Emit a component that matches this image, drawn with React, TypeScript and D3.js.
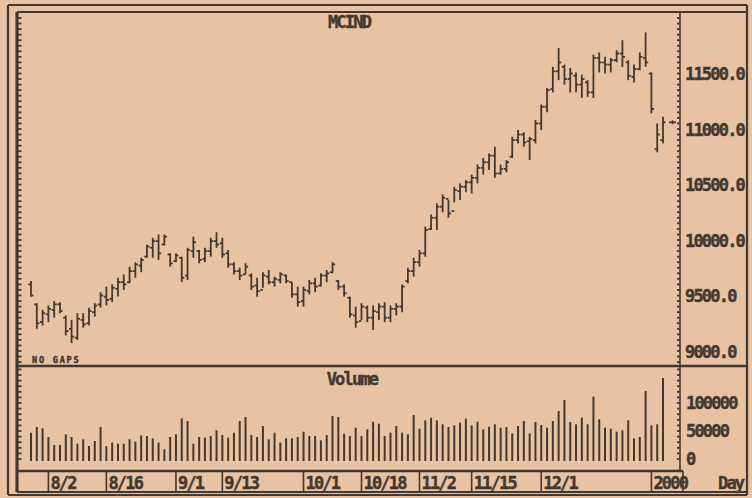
import React, { useEffect, useRef } from 'react';
import * as d3 from 'd3';

// daily bars, late Jul 1999 .. early Jan 2000
const highs = [
  9630, 9430, 9370, 9410, 9450, 9440, 9320, 9280, 9340, 9340,
  9390, 9430, 9530, 9580, 9600, 9660, 9690, 9760, 9800, 9840,
  9960, 10020, 10050, 10050, 9880, 9880, 9850, 9930, 10030, 9910,
  9930, 10020, 10070, 10020, 9910, 9800, 9750, 9790, 9700, 9660,
  9710, 9730, 9670, 9710, 9690, 9620, 9580, 9580, 9640, 9660,
  9700, 9730, 9800, 9640, 9600, 9490, 9400, 9430, 9410, 9410,
  9430, 9440, 9410, 9430, 9600, 9750, 9840, 9910, 10120, 10230,
  10330, 10410, 10360, 10480, 10510, 10540, 10590, 10680, 10740, 10780,
  10840, 10680, 10720, 10930, 10990, 10970, 10930, 11080, 11220, 11370,
  11560, 11730, 11580, 11550, 11510, 11490, 11440, 11670, 11690, 11650,
  11640, 11710, 11800, 11620, 11580, 11690, 11870, 11510, 11050, 11110,
];
const lows = [
  9490, 9200, 9230, 9260, 9300, 9340, 9140, 9070, 9100, 9210,
  9230, 9310, 9390, 9410, 9440, 9490, 9550, 9610, 9660, 9710,
  9840, 9840, 9820, 9950, 9760, 9800, 9620, 9640, 9840, 9790,
  9800, 9850, 9930, 9840, 9750, 9690, 9640, 9690, 9550, 9490,
  9570, 9600, 9580, 9610, 9610, 9480, 9400, 9400, 9510, 9530,
  9580, 9620, 9700, 9550, 9490, 9300, 9210, 9280, 9260, 9190,
  9280, 9260, 9260, 9320, 9350, 9610, 9670, 9760, 9850, 10090,
  10090, 10250, 10200, 10340, 10360, 10430, 10420, 10510, 10590, 10630,
  10560, 10590, 10610, 10740, 10870, 10840, 10720, 10870, 10990, 11150,
  11330, 11440, 11400, 11330, 11330, 11280, 11290, 11280, 11510, 11500,
  11510, 11600, 11560, 11440, 11420, 11530, 11560, 11140, 10790, 10870,
];
const opens = [
  9600, 9420, 9260, 9330, 9370, 9420, 9300, 9200, 9120, 9280,
  9250, 9350, 9420, 9490, 9470, 9560, 9620, 9620, 9720, 9770,
  9850, 9930, 9990, 9960, 9870, 9810, 9840, 9680, 9900, 9900,
  9830, 9900, 9990, 9970, 9880, 9780, 9720, 9690, 9680, 9590,
  9550, 9670, 9620, 9640, 9680, 9620, 9510, 9450, 9540, 9610,
  9590, 9680, 9710, 9630, 9580, 9480, 9320, 9270, 9390, 9300,
  9350, 9400, 9300, 9380, 9400, 9630, 9720, 9800, 9880, 10100,
  10200, 10300, 10370, 10260, 10440, 10480, 10520, 10560, 10650, 10700,
  10760, 10600, 10640, 10750, 10900, 10950, 10890, 10900, 11050, 11200,
  11360, 11520, 11560, 11450, 11480, 11400, 11420, 11330, 11640, 11600,
  11580, 11620, 11680, 11600, 11470, 11540, 11640, 11500, 10820, 10900,
];
const closes = [
  9500, 9250, 9340, 9380, 9420, 9360, 9180, 9130, 9290, 9240,
  9360, 9410, 9500, 9460, 9570, 9620, 9600, 9720, 9780, 9820,
  9940, 9990, 9880, 10030, 9790, 9860, 9660, 9910, 9980, 9820,
  9900, 9990, 9960, 9870, 9780, 9720, 9680, 9760, 9580, 9540,
  9680, 9620, 9650, 9690, 9630, 9510, 9440, 9550, 9610, 9580,
  9680, 9700, 9780, 9580, 9520, 9330, 9260, 9400, 9300, 9360,
  9400, 9300, 9380, 9400, 9580, 9720, 9800, 9880, 10090, 10200,
  10300, 10380, 10240, 10450, 10480, 10520, 10560, 10650, 10700, 10760,
  10600, 10640, 10700, 10900, 10950, 10880, 10910, 11050, 11200, 11350,
  11520, 11600, 11450, 11500, 11400, 11450, 11330, 11640, 11600, 11580,
  11620, 11680, 11650, 11480, 11540, 11650, 11600, 11180, 10950, 11060,
];
const volumes = [
  47000, 57100, 54700, 39300, 25000, 25000, 44000, 39300, 27400, 35100,
  23200, 32100, 57100, 23200, 29200, 27400, 27400, 35100, 30900, 42200,
  41100, 36900, 29200, 17300, 39300, 44000, 72600, 67800, 27400, 39300,
  38100, 41100, 51200, 42800, 38100, 47000, 67800, 75000, 42800, 39300,
  58900, 35100, 47000, 29200, 36900, 36900, 39300, 48800, 41100, 41100,
  33300, 42800, 76800, 75000, 45200, 41100, 55900, 41100, 53000, 66600,
  63100, 41100, 47000, 58900, 47000, 44000, 78500, 54100, 69000, 73800,
  69000, 61900, 57100, 60100, 64900, 72000, 60100, 66600, 53000, 57700,
  61900, 55900, 57100, 45800, 58900, 67800, 45800, 66000, 60700, 55900,
  67800, 85700, 105300, 66000, 61900, 73800, 61900, 111300, 70800, 55900,
  54100, 48800, 51200, 69000, 36900, 39300, 121400, 60100, 61900, 144600,
];

const dateIdx = [3, 13, 25, 33, 47, 57, 67, 76, 88, 107];
const dateLabels = ['8/2', '8/16', '9/1', '9/13', '10/1', '10/18', '11/2', '11/15', '12/1', '2000'];
const priceTicks = [9000, 9500, 10000, 10500, 11000, 11500];
const volumeTicks = [0, 50000, 100000];

const INK = '#43382f';
const PAPER = '#e7c2a3';
const FONT = '"DejaVu Sans Mono", monospace';

function McindChart() {
  const svgRef = useRef(null);

  useEffect(() => {
    const width = 752;
    const height = 498;
    const left = 17;     // inner left axis
    const right = 680;   // right axis of the panels
    const top = 12;
    const mid = 366;     // price / volume separator
    const bottom = 471;  // bottom of volume panel
    const dateBottom = 492;

    const svg = d3.select(svgRef.current);
    svg.html('');
    svg.attr('width', width).attr('height', height);

    svg.append('rect').attr('width', width).attr('height', height).attr('fill', PAPER);

    const x = d3.scaleLinear().domain([0, highs.length - 1]).range([31, 663]);
    const y = d3.scaleLinear().domain([9000, 11500]).range([351, 73.5]);
    const yv = d3.scaleLinear().domain([0, 100000]).range([459, 403]);

    // frame
    const line = (x1, y1, x2, y2, w) =>
      svg.append('line').attr('x1', x1).attr('y1', y1).attr('x2', x2).attr('y2', y2)
        .attr('stroke', INK).attr('stroke-width', w);
    line(8, 5, 747, 5, 2.2);
    line(8, 5, 8, 495, 2.2);
    line(747, 5, 747, 495, 2.2);
    line(8, 495, 747, 495, 2);
    line(left, top, 747, top, 2);
    line(left, top, left, dateBottom, 3.2);
    line(right, top, right, bottom, 1.6);
    line(left, mid, 747, mid, 2.6);
    line(left, bottom, right + 3, bottom, 2.6);
    line(left, dateBottom, 747, dateBottom, 2);
    line(right + 3, bottom, right + 3, dateBottom, 1.6);

    // axis ruler ticks
    const pTicks = d3.range(8900, 12100, 50).filter(v => y(v) > top + 2 && y(v) < mid - 2);
    const vTicks = d3.range(0, 200000, 10000).filter(v => yv(v) > mid + 2 && yv(v) < bottom - 2);
    const ticks = svg.append('g').attr('stroke', INK).attr('stroke-width', 1.8);
    pTicks.forEach(v => {
      ticks.append('line').attr('x1', left).attr('x2', left + 4.5).attr('y1', y(v)).attr('y2', y(v));
      ticks.append('line').attr('x1', right - 3).attr('x2', right).attr('y1', y(v)).attr('y2', y(v));
    });
    vTicks.forEach(v => {
      ticks.append('line').attr('x1', left).attr('x2', left + 4.5).attr('y1', yv(v)).attr('y2', yv(v));
      ticks.append('line').attr('x1', right - 3).attr('x2', right).attr('y1', yv(v)).attr('y2', yv(v));
    });

    // OHLC bars
    const bars = svg.append('g').attr('stroke', INK).attr('stroke-width', 1.8);
    highs.forEach((h, i) => {
      const cx = x(i);
      bars.append('line').attr('x1', cx).attr('x2', cx).attr('y1', y(h)).attr('y2', y(lows[i]));
      bars.append('line').attr('x1', cx - 2.6).attr('x2', cx).attr('y1', y(opens[i])).attr('y2', y(opens[i]));
      bars.append('line').attr('x1', cx).attr('x2', cx + 2.6).attr('y1', y(closes[i])).attr('y2', y(closes[i]));
    });

    // last price marker
    const last = closes[closes.length - 1];
    line(669, y(last), 676, y(last), 1.8);
    line(672.5, y(last) - 2, 672.5, y(last) + 2, 1.6);

    // volume bars
    svg.append('g').selectAll('line')
      .data(volumes)
      .join('line')
      .attr('x1', (d, i) => x(i)).attr('x2', (d, i) => x(i))
      .attr('y1', yv(0) + 2).attr('y2', d => yv(d))
      .attr('stroke', INK).attr('stroke-width', 2);

    const text = (tx, ty, s, size = 17, ls = -1.8, anchor = 'start') =>
      svg.append('text').attr('x', tx).attr('y', ty).text(s)
        .attr('font-family', FONT).attr('font-weight', 'bold')
        .attr('font-size', size).attr('letter-spacing', ls)
        .attr('text-anchor', anchor).attr('fill', INK)
        .attr('stroke', INK).attr('stroke-width', 0.4);

    priceTicks.forEach(v => text(685, y(v) + 6.5, v.toFixed(1)));
    volumeTicks.forEach(v => text(686, yv(v) + 6, String(v)));

    text(349, 28, 'MCIND', 17, -1.8, 'middle');
    text(352, 385, 'Volume', 17, -1.8, 'middle');
    text(32, 363, 'NO GAPS', 8.5, 1.8);
    text(718, 489, 'Day');

    // date row
    dateIdx.forEach((idx, k) => {
      const sx = x(idx);
      line(sx, bottom, sx, dateBottom, 1.6);
      text(sx + 2, 489, dateLabels[k]);
    });
  }, []);

  return <svg ref={svgRef} style={{ position: 'absolute', left: 0, top: 0, display: 'block' }}></svg>;
}

export default function App() {
  return <McindChart />;
}
